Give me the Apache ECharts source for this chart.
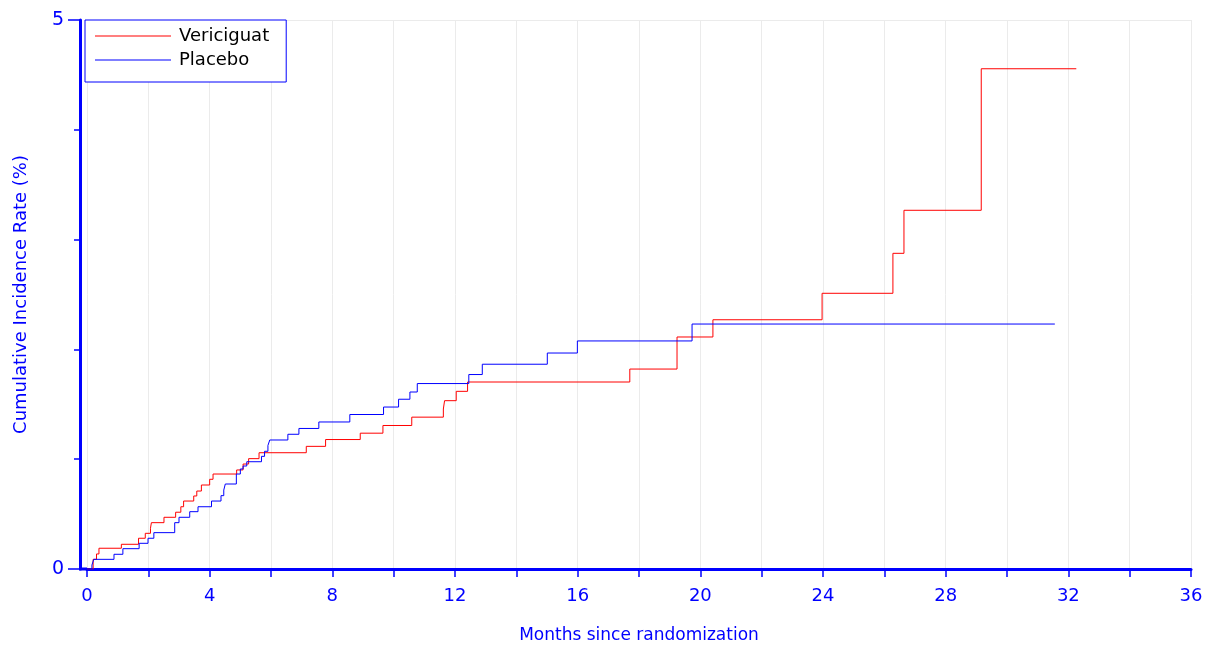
<!DOCTYPE html>
<html>
<head>
<meta charset="utf-8">
<script src="https://cdn.jsdelivr.net/npm/echarts@6/dist/echarts.min.js"></script>
<style>
  html, body { margin: 0; padding: 0; background: #fff; }
  #chart { width: 1209px; height: 646px; }
</style>
</head>
<body>
<div id="chart"></div>
<script>
// step points: month of event, cumulative incidence (%) after it
var vericiguatMonths = [0, 0.2, 0.31, 0.39, 1.12, 1.68, 1.9, 2.07, 2.1, 2.51, 2.89, 3.06, 3.15, 3.48, 3.58, 3.73, 4.0, 4.11,
    4.88, 5.09, 5.27, 5.61, 7.15, 7.78, 8.91, 9.65, 10.59, 11.62, 11.66, 12.04, 12.41, 17.7, 19.24, 20.41,
    23.97, 26.28, 26.64, 29.16, 32.26];
var vericiguatRates = [0, 0.088, 0.137, 0.189, 0.225, 0.28, 0.325, 0.371, 0.422, 0.471, 0.517, 0.567, 0.619, 0.665, 0.71, 0.765, 0.817, 0.865,
    0.902, 0.956, 1.005, 1.059, 1.117, 1.179, 1.237, 1.307, 1.383, 1.457, 1.533, 1.618, 1.703, 1.821, 2.113, 2.27,
    2.511, 2.875, 3.267, 4.556, 4.556];

var placeboMonths = [0, 0.16, 0.22, 0.88, 1.17, 1.7, 1.99, 2.18, 2.86, 3.0, 3.35, 3.62, 4.06, 4.37, 4.46, 4.51, 4.87, 5.0,
    5.09, 5.21, 5.69, 5.79, 5.9, 5.96, 6.55, 6.91, 7.56, 8.57, 9.67, 10.16, 10.53, 10.77, 12.45, 12.89,
    15.01, 15.99, 19.73, 31.56];
var placeboRates = [0, 0.036, 0.088, 0.134, 0.185, 0.234, 0.28, 0.331, 0.422, 0.471, 0.522, 0.567, 0.619, 0.668, 0.719, 0.774, 0.865, 0.911,
    0.938, 0.977, 1.026, 1.072, 1.125, 1.175, 1.227, 1.28, 1.339, 1.407, 1.475, 1.546, 1.612, 1.689, 1.771, 1.865,
    1.967, 2.077, 2.231, 2.231];

var seriesNames = ['Vericiguat', 'Placebo'];

function pairs(xs, ys) {
    return xs.map(function (x, i) { return [x, ys[i]]; });
}

var blue = '#0000ff';
var font = 'DejaVu Sans';
var myChart = echarts.init(document.getElementById('chart'));

var option = {
    animation: false,
    backgroundColor: '#fff',
    textStyle: { fontFamily: font },
    grid: { left: 87, right: 18, top: 20, bottom: 77, outerBoundsMode: 'none' },
    // closes the small gap between the offset y axis and the x axis line
    graphic: [{
        type: 'rect',
        left: 79,
        top: 567.5,
        shape: { width: 9, height: 3 },
        style: { fill: blue }
    }],
    legend: {
        data: seriesNames,
        orient: 'vertical',
        left: 85,
        top: 20,
        padding: [6, 17, 12, 10],
        itemGap: 4,
        icon: 'rect',
        itemWidth: 76,
        itemHeight: 1,
        borderColor: blue,
        borderWidth: 1,
        backgroundColor: '#fff',
        textStyle: { color: '#000', fontSize: 18, lineHeight: 20, fontFamily: font, padding: [0, 0, 0, 3] }
    },
    xAxis: {
        type: 'value',
        min: 0,
        max: 36,
        interval: 4,
        name: 'Months since randomization',
        nameLocation: 'middle',
        nameGap: 58,
        nameTextStyle: { color: blue, fontSize: 17, fontFamily: font },
        axisLine: { show: true, onZero: false, lineStyle: { color: blue, width: 3 } },
        axisTick: { show: true, length: 8, lineStyle: { color: blue, width: 1.5 } },
        minorTick: { show: true, splitNumber: 2, length: 8, lineStyle: { color: blue, width: 1.5 } },
        axisLabel: { color: blue, fontSize: 18, margin: 18, fontFamily: font },
        splitLine: { show: true, lineStyle: { color: '#ebebeb' } },
        minorSplitLine: { show: true, lineStyle: { color: '#ebebeb' } }
    },
    yAxis: {
        type: 'value',
        min: 0,
        max: 5,
        interval: 5,
        offset: 7,
        name: 'Cumulative Incidence Rate (%)',
        nameLocation: 'middle',
        nameGap: 50,
        nameTextStyle: { color: blue, fontSize: 18, fontFamily: font },
        axisLine: { show: true, onZero: false, lineStyle: { color: blue, width: 3 } },
        axisTick: { show: true, length: 12, lineStyle: { color: blue, width: 1.5 } },
        minorTick: { show: true, splitNumber: 5, length: 6, lineStyle: { color: blue, width: 1.5 } },
        axisLabel: { color: blue, fontSize: 19, margin: 16, fontFamily: font },
        splitLine: { show: true, lineStyle: { color: '#ebebeb' } }
    },
    series: [{
        name: seriesNames[0],
        type: 'line',
        step: 'end',
        symbol: 'none',
        color: '#ff0000',
        lineStyle: { color: '#ff0000', width: 1 },
        data: pairs(vericiguatMonths, vericiguatRates)
    }, {
        name: seriesNames[1],
        type: 'line',
        step: 'end',
        symbol: 'none',
        color: blue,
        lineStyle: { color: blue, width: 1 },
        data: pairs(placeboMonths, placeboRates)
    }]
};

myChart.setOption(option);
</script>
</body>
</html>
